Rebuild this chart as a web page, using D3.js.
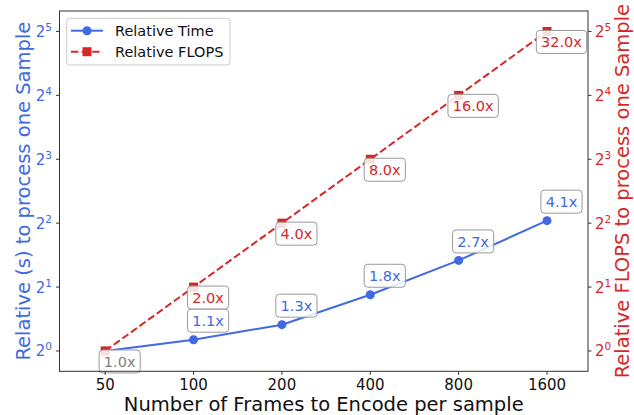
<!DOCTYPE html>
<html>
<head>
<meta charset="utf-8">
<script src="https://cdn.jsdelivr.net/npm/d3@7"></script>
<style>
  body { margin: 0; background: #fff; }
  text { font-family: "DejaVu Sans", sans-serif; }
</style>
</head>
<body>
<svg width="634" height="415"></svg>
<script>
// data
const frames = [50, 100, 200, 400, 800, 1600];
const relTime = [1.0, 1.13, 1.33, 1.84, 2.67, 4.11];
const relFlops = [1, 2, 4, 8, 16, 32];
const timeLabels = ["1.0x", "1.1x", "1.3x", "1.8x", "2.7x", "4.1x"];
const flopsLabels = ["1.0x", "2.0x", "4.0x", "8.0x", "16.0x", "32.0x"];
const yTicks = [0, 1, 2, 3, 4, 5];

const blue = "#4169e1", red = "#d62728", grey = "#808080";
const plot = { left: 59.5, right: 588, top: 11, bottom: 371.3 };

const svg = d3.select("svg");

const x = d3.scaleLog().base(2)
  .domain([50 * Math.pow(2, -0.517), 1600 * Math.pow(2, 0.464)])
  .range([plot.left, plot.right]);
const y = d3.scaleLog().base(2)
  .domain([Math.pow(2, -0.318), Math.pow(2, 5.32)])
  .range([plot.bottom, plot.top]);

// lines
const line = d3.line().x(d => x(d[0])).y(d => y(d[1]));
svg.append("path")
  .attr("d", line(frames.map((f, i) => [f, relTime[i]])))
  .attr("fill", "none").attr("stroke", blue).attr("stroke-width", 2);
svg.append("path")
  .attr("d", line(frames.map((f, i) => [f, relFlops[i]])))
  .attr("fill", "none").attr("stroke", red).attr("stroke-width", 2)
  .attr("stroke-dasharray", "7.4,3.2");

// markers
svg.selectAll(".dot").data(frames).enter().append("circle")
  .attr("cx", d => x(d)).attr("cy", (d, i) => y(relTime[i]))
  .attr("r", 4.5).attr("fill", blue);
svg.selectAll(".sq").data(frames).enter().append("rect")
  .attr("x", d => x(d) - 4.5).attr("y", (d, i) => y(relFlops[i]) - 4.5)
  .attr("width", 9).attr("height", 9).attr("fill", red);

// annotation boxes
function label(px, py, txt, color, below) {
  const g = svg.append("g");
  const rect = g.append("rect");
  const t = g.append("text").text(txt)
    .attr("fill", color).attr("font-size", 14.5).attr("text-anchor", "middle");
  const w = t.node().getComputedTextLength() + 9.5;
  const h = 23;
  const cx = px + 14.5;
  const top = below ? py - 1 : py - 7.5 - h;
  rect.attr("x", cx - w / 2).attr("y", top).attr("width", w).attr("height", h)
    .attr("rx", 3.5).attr("fill", "#fff").attr("fill-opacity", 0.85)
    .attr("stroke", "#999").attr("stroke-width", 1);
  t.attr("x", cx).attr("y", top + h / 2 + 5.2);
}
frames.forEach((f, i) => {
  if (i > 0) label(x(f), y(relFlops[i]), flopsLabels[i], red, true);
});
frames.forEach((f, i) => {
  if (i > 0) label(x(f), y(relTime[i]), timeLabels[i], blue, false);
});
label(x(frames[0]), y(relFlops[0]), flopsLabels[0], grey, true);

// frame
svg.append("rect")
  .attr("x", plot.left).attr("y", plot.top)
  .attr("width", plot.right - plot.left).attr("height", plot.bottom - plot.top)
  .attr("fill", "none").attr("stroke", "#333").attr("stroke-width", 1);

// x axis
const xa = svg.append("g");
frames.forEach(f => {
  xa.append("line").attr("x1", x(f)).attr("x2", x(f))
    .attr("y1", plot.bottom).attr("y2", plot.bottom + 3.5).attr("stroke", "#333");
  xa.append("text").attr("x", x(f)).attr("y", 390).attr("text-anchor", "middle")
    .attr("font-size", 15).attr("fill", "#111").text(f);
});
svg.append("text").attr("x", (plot.left + plot.right) / 2).attr("y", 411)
  .attr("text-anchor", "middle").attr("font-size", 19.5).attr("fill", "#111")
  .text("Number of Frames to Encode per sample");

// y axes
function powLabel(g, xx, yy, p, color, anchor) {
  const t = g.append("text").attr("x", xx).attr("y", yy + 5.5)
    .attr("text-anchor", anchor).attr("fill", color).attr("font-size", 15);
  t.append("tspan").text("2");
  t.append("tspan").attr("font-size", 10.5).attr("dy", -6).text(p);
}
const ya = svg.append("g");
yTicks.forEach(p => {
  const yy = y(Math.pow(2, p));
  ya.append("line").attr("x1", plot.left - 3.5).attr("x2", plot.left)
    .attr("y1", yy).attr("y2", yy).attr("stroke", "#333");
  ya.append("line").attr("x1", plot.right).attr("x2", plot.right + 3.5)
    .attr("y1", yy).attr("y2", yy).attr("stroke", "#333");
  powLabel(ya, 52, yy, p, blue, "end");
  powLabel(ya, 595, yy, p, red, "start");
});
const midY = (plot.top + plot.bottom) / 2;
svg.append("text").attr("transform", `translate(30,${midY}) rotate(-90)`)
  .attr("text-anchor", "middle").attr("font-size", 19.5).attr("fill", blue)
  .text("Relative (s) to process one Sample");
svg.append("text").attr("transform", `translate(628.5,${midY}) rotate(-90)`)
  .attr("text-anchor", "middle").attr("font-size", 19.5).attr("fill", red)
  .text("Relative FLOPS to process one Sample");

// legend
const lg = svg.append("g");
lg.append("rect").attr("x", 66.7).attr("y", 18.3).attr("width", 163.3).attr("height", 46.7)
  .attr("rx", 3).attr("fill", "#fff").attr("fill-opacity", 0.8)
  .attr("stroke", "#ccc");
lg.append("line").attr("x1", 71).attr("x2", 103).attr("y1", 30.7).attr("y2", 30.7)
  .attr("stroke", blue).attr("stroke-width", 2);
lg.append("circle").attr("cx", 87).attr("cy", 30.7).attr("r", 4.5).attr("fill", blue);
lg.append("line").attr("x1", 71).attr("x2", 103).attr("y1", 51.7).attr("y2", 51.7)
  .attr("stroke", red).attr("stroke-width", 2).attr("stroke-dasharray", "7.4,3.2");
lg.append("rect").attr("x", 82.5).attr("y", 47.2).attr("width", 9).attr("height", 9).attr("fill", red);
lg.append("text").attr("x", 115).attr("y", 35.8).attr("font-size", 14.5).attr("fill", "#111")
  .text("Relative Time");
lg.append("text").attr("x", 115).attr("y", 56.8).attr("font-size", 14.5).attr("fill", "#111")
  .text("Relative FLOPS");
</script>
</body>
</html>
